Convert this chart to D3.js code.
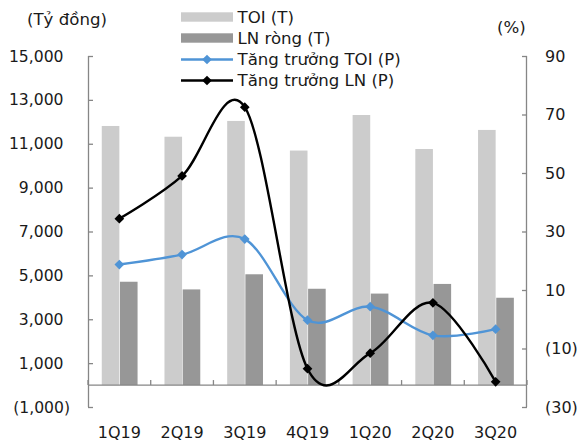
<!DOCTYPE html>
<html>
<head>
<meta charset="utf-8">
<script src="https://cdn.jsdelivr.net/npm/d3@7"></script>
<style>
  html, body { margin: 0; padding: 0; background: #fff; }
  svg { display: block; font-family: "DejaVu Sans", Verdana, sans-serif; }
</style>
</head>
<body>
<svg id="chart" width="582" height="447"></svg>
<script>
// Quarterly data
const quarters = ["1Q19", "2Q19", "3Q19", "4Q19", "1Q20", "2Q20", "3Q20"];
const toi = [11810, 11320, 12040, 10690, 12310, 10760, 11630];      // Tỷ đồng
const lnRong = [4710, 4360, 5050, 4390, 4170, 4610, 3980];          // Tỷ đồng
const toiGrowth = [18.7, 22.1, 27.4, -0.3, 4.3, -5.5, -3.4];        // %
const lnGrowth = [34.4, 49.0, 72.5, -16.9, -11.6, 5.6, -21.4];      // %
const leftTicks = [-1000, 1000, 3000, 5000, 7000, 9000, 11000, 13000, 15000];
const rightTicks = [-30, -10, 10, 30, 50, 70, 90];

const svg = d3.select("#chart");
const plot = { left: 88, right: 527, top: 56, bottom: 407 };

const x = d3.scaleBand().domain(quarters).range([plot.left, plot.right]);
const yL = d3.scaleLinear().domain([-1000, 15000]).range([plot.bottom, plot.top]);
const yR = d3.scaleLinear().domain([-30, 90]).range([plot.bottom, plot.top]);

const axisColor = "#868686";
const textColor = "#1a1a1a";
const fontSize = 16;
const labelSize = 16.6;
const lightGray = "#cccccc";
const darkGray = "#979797";
const blue = "#4f94d6";

const fmtNum = d3.format(",");
const barW = 17.6;

// Bars
svg.append("g").selectAll("rect").data(quarters).join("rect")
  .attr("x", (d) => x(d) + x.bandwidth() / 2 - barW)
  .attr("width", barW)
  .attr("y", (d, i) => yL(toi[i]))
  .attr("height", (d, i) => yL(0) - yL(toi[i]))
  .attr("fill", lightGray);

svg.append("g").selectAll("rect").data(quarters).join("rect")
  .attr("x", (d) => x(d) + x.bandwidth() / 2 + 0.6)
  .attr("width", barW)
  .attr("y", (d, i) => yL(lnRong[i]))
  .attr("height", (d, i) => yL(0) - yL(lnRong[i]))
  .attr("fill", darkGray);

// Left axis
const leftAxis = svg.append("g")
  .attr("transform", `translate(${plot.left},0)`)
  .call(d3.axisRight(yL).tickValues(leftTicks).tickSize(5).tickFormat(""));
leftAxis.select(".domain").attr("stroke", axisColor).attr("stroke-width", 1.3)
  .attr("d", `M0.5,${plot.top}V${plot.bottom}`);
leftAxis.selectAll(".tick line").attr("stroke", axisColor).attr("stroke-width", 1.3);

svg.append("g").selectAll("text").data(leftTicks).join("text")
  .attr("x", (d) => d < 0 ? 70 : 63.5)
  .attr("y", (d) => yL(d))
  .attr("dy", "0.36em")
  .attr("text-anchor", "end")
  .attr("font-size", 15.6)
  .attr("fill", textColor)
  .text((d) => d < 0 ? `(${fmtNum(-d)})` : fmtNum(d));

// Right axis
const rightAxis = svg.append("g")
  .attr("transform", `translate(${plot.right},0)`)
  .call(d3.axisLeft(yR).tickValues(rightTicks).tickSize(5).tickFormat(""));
rightAxis.select(".domain").attr("stroke", axisColor).attr("stroke-width", 1.3)
  .attr("d", `M-0.5,${plot.top}V${plot.bottom}`);
rightAxis.selectAll(".tick line").attr("stroke", axisColor).attr("stroke-width", 1.3);

svg.append("g").selectAll("text").data(rightTicks).join("text")
  .attr("x", 545)
  .attr("y", (d) => yR(d))
  .attr("dy", "0.36em")
  .attr("text-anchor", "start")
  .attr("font-size", fontSize)
  .attr("fill", textColor)
  .text((d) => d < 0 ? `(${-d})` : d);

// Category axis on the zero line
const zeroY = yL(0);
svg.append("line")
  .attr("x1", plot.left).attr("x2", plot.right)
  .attr("y1", zeroY).attr("y2", zeroY)
  .attr("stroke", axisColor).attr("stroke-width", 1.3);
const bounds = quarters.map((q) => x(q)).concat([plot.right]);
svg.append("g").selectAll("line").data(bounds).join("line")
  .attr("x1", (d) => d).attr("x2", (d) => d)
  .attr("y1", zeroY).attr("y2", zeroY - 5)
  .attr("stroke", axisColor).attr("stroke-width", 1.3);

svg.append("g").selectAll("text").data(quarters).join("text")
  .attr("x", (d) => x(d) + x.bandwidth() / 2)
  .attr("y", 438)
  .attr("text-anchor", "middle")
  .attr("font-size", fontSize)
  .attr("fill", textColor)
  .text((d) => d);

// Growth lines (smoothed)
const cx = (i) => x(quarters[i]) + x.bandwidth() / 2;
const line = d3.line()
  .x((d, i) => cx(i))
  .y((d) => yR(d))
  .curve(d3.curveCatmullRom.alpha(0));

const diamond = d3.symbol().type(d3.symbolDiamond2).size(60);

function drawSeries(values, color) {
  const g = svg.append("g");
  g.append("path")
    .attr("d", line(values))
    .attr("fill", "none")
    .attr("stroke", color)
    .attr("stroke-width", 2.4);
  g.selectAll("path.m").data(values).join("path")
    .attr("class", "m")
    .attr("transform", (d, i) => `translate(${cx(i)},${yR(d)})`)
    .attr("d", diamond)
    .attr("fill", color);
}
drawSeries(toiGrowth, blue);
drawSeries(lnGrowth, "#000000");

// Axis unit titles
svg.append("text").attr("x", 27).attr("y", 25)
  .attr("font-size", labelSize).attr("fill", textColor).text("(Tỷ đồng)");
svg.append("text").attr("x", 497).attr("y", 33)
  .attr("font-size", labelSize).attr("fill", textColor).text("(%)");

// Legend
const legend = [
  { label: "TOI (T)", type: "bar", color: lightGray },
  { label: "LN ròng (T)", type: "bar", color: darkGray },
  { label: "Tăng trưởng TOI (P)", type: "line", color: blue },
  { label: "Tăng trưởng LN (P)", type: "line", color: "#000000" }
];
const legY = [17, 38, 59.5, 80.5];
const lg = svg.append("g");
legend.forEach((item, i) => {
  const y = legY[i];
  if (item.type === "bar") {
    lg.append("rect").attr("x", 181).attr("y", y - 4.7).attr("width", 52).attr("height", 9.4)
      .attr("fill", item.color);
  } else {
    lg.append("line").attr("x1", 181).attr("x2", 233).attr("y1", y).attr("y2", y)
      .attr("stroke", item.color).attr("stroke-width", 2.4);
    lg.append("path").attr("transform", `translate(207,${y})`).attr("d", diamond)
      .attr("fill", item.color);
  }
  lg.append("text").attr("x", 237.5).attr("y", y).attr("dy", "0.36em")
    .attr("font-size", labelSize).attr("fill", textColor).text(item.label);
});
</script>
</body>
</html>
